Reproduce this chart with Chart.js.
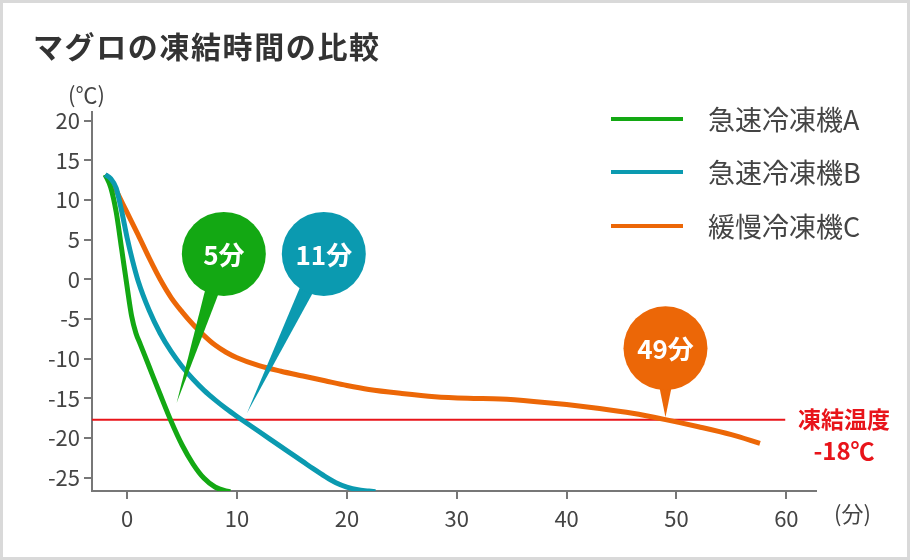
<!DOCTYPE html>
<html lang="ja">
<head>
  <meta charset="UTF-8">
  <title>マグロの凍結時間の比較</title>
  <script src="https://cdn.jsdelivr.net/npm/chart.js"></script>
  <style>
    * { box-sizing: border-box; }
    body {
      margin: 0;
      background: #fff;
      font-family: 'Noto Sans CJK JP', 'Noto Sans', sans-serif;
      color: #444;
    }
    #stage { position: relative; width: 910px; height: 560px; overflow: hidden; }
    #chart { position: absolute; left: 0; top: 0; }
    #frame {
      position: absolute; left: 0; top: 0; width: 910px; height: 560px;
      border: 3px solid #d9d9d9; pointer-events: none;
    }
    .txt { position: absolute; white-space: nowrap; }
    #title { left: 33px; top: 28px; line-height: 34px; font-size: 30px; font-weight: bold; color: #333; letter-spacing: 1.6px; }
    #unitY { left: 68px; top: 80px; line-height: 26px; font-size: 22px; }
    #unitX { left: 834px; top: 499px; line-height: 26px; font-size: 22px; }
    #legend .row { position: absolute; left: 611px; height: 30px; }
    #legend .swatch { position: absolute; left: 0; top: 13px; width: 72px; height: 4px; }
    #legend .label { position: absolute; left: 97px; top: 0; line-height: 30px; font-size: 27px; white-space: nowrap; color: #444; }
    #freeze { left: 783px; width: 122px; text-align: center; color: #e8141a; font-weight: bold; }
    #freeze div { line-height: 31px; }
  </style>
</head>
<body>
  <div id="stage">
    <canvas id="chart" width="910" height="560"></canvas>
    <div id="title" class="txt">マグロの凍結時間の比較</div>
    <div id="unitY" class="txt">(℃)</div>
    <div id="unitX" class="txt">(分)</div>
    <div id="legend"></div>
    <div id="freeze" class="txt" style="top:403px;">
      <div style="font-size:23px;">凍結温度</div>
      <div style="font-size:24px;">-18℃</div>
    </div>
    <div id="frame"></div>
  </div>

  <script>
    // series (minutes / ℃)
    const seriesLabels = ['急速冷凍機A', '急速冷凍機B', '緩慢冷凍機C'];

    const aMin  = [-2, -1.5, -1, -0.5, 0, 0.4, 0.8, 1.2, 1.6, 2, 3, 4, 5, 6, 7, 8, 9, 9.4];
    const aTemp = [13.2, 11.6, 8.5, 3.8, -1, -4.6, -6.8, -8.2, -9.6, -11, -14.5, -17.9, -20.9, -23.3, -25.1, -26.2, -26.7, -26.8];

    const bMin  = [-2, -1.5, -1, -0.5, 0, 0.5, 1, 2, 3, 4, 5, 6, 7, 8, 9, 10, 11, 12, 13, 14, 15, 16, 17, 18, 19, 20, 21, 22, 22.6];
    const bTemp = [13.2, 12.7, 11.5, 8.6, 5.2, 2.3, -0.2, -3.9, -6.8, -9.1, -11, -12.6, -14, -15.2, -16.3, -17.3, -18.25, -19.2, -20.15, -21.1, -22.05, -23, -23.95, -24.85, -25.65, -26.2, -26.55, -26.7, -26.8];

    const cMin  = [-2, -1.5, -1, -0.5, 0, 1, 2, 3, 4, 5, 6, 7, 8, 9, 10, 12, 14, 16, 18, 20, 22, 25, 28, 31, 34, 37, 40, 43, 46, 49, 52, 55, 57.6];
    const cTemp = [13.2, 12.4, 11.2, 9.8, 8.4, 5.6, 2.7, 0, -2.3, -4.1, -5.7, -7.1, -8.3, -9.2, -9.9, -10.9, -11.6, -12.2, -12.8, -13.4, -13.9, -14.4, -14.8, -15, -15.1, -15.4, -15.8, -16.3, -16.9, -17.7, -18.6, -19.6, -20.7];

    // freezing line
    const freezeTemp = -17.7;
    const freezeSpan = [-3.2, 59.9];

    // axes
    const xTicks = [0, 10, 20, 30, 40, 50, 60];
    const yTicks = [-25, -20, -15, -10, -5, 0, 5, 10, 15, 20];
    const xRange = [-3.2, 62.7];
    const yRange = [-26.7, 21.1];

    // callouts: label, pointer tip, bubble centre (data units)
    const calloutLabels = ['5分', '11分', '49分'];
    const calloutTip  = [[4.5, -15.6], [10.9, -16.9], [49, -17.4]];
    const calloutHead = [[8.8, 3.2], [17.9, 3.2], [49, -8.7]];

    const colors = ['#13a813', '#0b9ab0', '#ec6707'];
    const freezeColor = '#e8141a';

    const zip = (xs, ys) => xs.map((x, i) => ({ x: x, y: ys[i] }));

    // html legend
    const legendEl = document.getElementById('legend');
    const legendTops = [104, 157, 211];
    seriesLabels.forEach((lab, i) => {
      const row = document.createElement('div');
      row.className = 'row';
      row.style.top = legendTops[i] + 'px';
      row.innerHTML = '<div class="swatch" style="background:' + colors[i] + '"></div>' +
                      '<div class="label">' + lab + '</div>';
      legendEl.appendChild(row);
    });

    function drawBubble(ctx, cx, cy, tx, ty, r, color, text) {
      const ang = Math.atan2(ty - cy, tx - cx);
      const spread = 0.22;
      const br = r * 0.8;
      ctx.save();
      ctx.fillStyle = color;
      ctx.beginPath();
      ctx.moveTo(cx + br * Math.cos(ang - spread), cy + br * Math.sin(ang - spread));
      ctx.lineTo(tx, ty);
      ctx.lineTo(cx + br * Math.cos(ang + spread), cy + br * Math.sin(ang + spread));
      ctx.closePath();
      ctx.fill();
      ctx.beginPath();
      ctx.arc(cx, cy, r, 0, Math.PI * 2);
      ctx.fill();
      ctx.fillStyle = '#fff';
      ctx.font = 'bold 26px "Noto Sans CJK JP", sans-serif';
      ctx.textAlign = 'center';
      ctx.textBaseline = 'middle';
      ctx.fillText(text, cx, cy + 1);
      ctx.restore();
    }

    const calloutPlugin = {
      id: 'callouts',
      afterDatasetsDraw(chart) {
        const xs = chart.scales.x, ys = chart.scales.y;
        const ctx = chart.ctx;
        calloutLabels.forEach((lab, i) => {
          drawBubble(ctx,
            xs.getPixelForValue(calloutHead[i][0]), ys.getPixelForValue(calloutHead[i][1]),
            xs.getPixelForValue(calloutTip[i][0]), ys.getPixelForValue(calloutTip[i][1]),
            42, colors[i], lab);
        });
      }
    };

    const lineDs = (label, data, color, order) => ({
      label: label,
      data: data,
      borderColor: color,
      borderWidth: 5,
      pointRadius: 0,
      cubicInterpolationMode: 'monotone',
      fill: false,
      order: order
    });

    new Chart(document.getElementById('chart'), {
      type: 'line',
      data: {
        datasets: [
          lineDs(seriesLabels[0], zip(aMin, aTemp), colors[0], 1),
          lineDs(seriesLabels[1], zip(bMin, bTemp), colors[1], 0),
          lineDs(seriesLabels[2], zip(cMin, cTemp), colors[2], 2),
          {
            label: '凍結温度',
            data: zip(freezeSpan, [freezeTemp, freezeTemp]),
            borderColor: freezeColor,
            borderWidth: 2,
            pointRadius: 0,
            order: 3
          }
        ]
      },
      options: {
        responsive: false,
        animation: false,
        layout: { padding: { left: 0, top: 112, right: 94, bottom: 29 } },
        plugins: { legend: { display: false }, tooltip: { enabled: false } },
        scales: {
          x: {
            type: 'linear',
            min: xRange[0],
            max: xRange[1],
            afterBuildTicks: s => { s.ticks = xTicks.map(v => ({ value: v })); },
            afterFit: s => { s.height = 40; },
            grid: { drawOnChartArea: false, drawTicks: true, tickLength: 8, color: '#777', lineWidth: 2 },
            border: { color: '#777', width: 2 },
            ticks: {
              padding: 6,
              color: '#444',
              maxRotation: 0,
              font: { family: '"Noto Sans CJK JP", sans-serif', size: 22 }
            }
          },
          y: {
            type: 'linear',
            min: yRange[0],
            max: yRange[1],
            afterBuildTicks: s => { s.ticks = yTicks.map(v => ({ value: v })); },
            afterFit: s => { s.width = 92; },
            grid: { drawOnChartArea: false, drawTicks: true, tickLength: 8, color: '#777', lineWidth: 2 },
            border: { color: '#777', width: 2 },
            ticks: {
              padding: 4,
              color: '#444',
              font: { family: '"Noto Sans CJK JP", sans-serif', size: 22 }
            }
          }
        }
      },
      plugins: [calloutPlugin]
    });
  </script>
</body>
</html>
